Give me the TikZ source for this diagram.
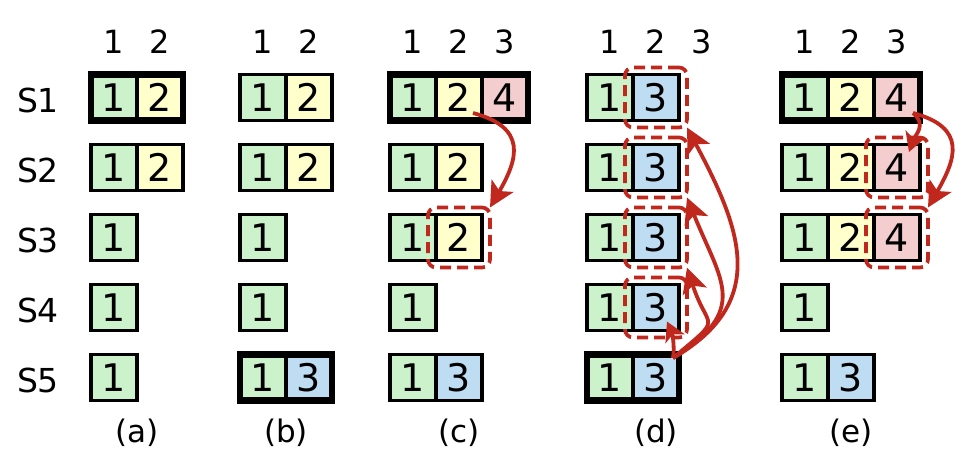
\documentclass[tikz,border=0pt]{standalone}
\usepackage{fontspec}
\setmainfont{DejaVu Sans}
\usetikzlibrary{arrows.meta}
\definecolor{cg}{RGB}{204,242,204}
\definecolor{cy}{RGB}{255,255,204}
\definecolor{cp}{RGB}{244,206,206}
\definecolor{cb}{RGB}{190,221,242}
\definecolor{myred}{RGB}{192,40,30}
\begin{document}
\begin{tikzpicture}[x=1pt,y=-1pt,
  cell/.style={draw=black, line width=3.1pt, minimum width=46pt, minimum height=46pt,
    inner sep=0pt, outer sep=0pt, font=\fontsize{38}{38}\selectfont},
  gc/.style={cell,fill=cg}, yc/.style={cell,fill=cy}, pc/.style={cell,fill=cp}, bc/.style={cell,fill=cb},
  leader/.style={draw=black, line width=6.5pt},
  dbox/.style={draw=myred, line width=3.7pt, dash pattern=on 11pt off 6pt, rounded corners=8pt,
    minimum width=62pt, minimum height=60pt, inner sep=0pt, outer sep=0pt},
  arr/.style={draw=myred, line width=3.8pt, -{Stealth[length=25pt,width=25pt,inset=6pt]}},
  sarr/.style={draw=myred, line width=3.8pt, -{Stealth[length=19pt,width=21pt,inset=5pt]}},
  hdr/.style={font=\fontsize{32}{32}\selectfont, anchor=base},
  srv/.style={font=\fontsize{33}{33}\selectfont, anchor=base},
  ptag/.style={font=\fontsize{31}{31}\selectfont, anchor=base}
]
\useasboundingbox (0,0) rectangle (964,458);

% headers
\node[hdr] (ha1) at (114,53) {1}; \node[hdr] (ha2) at (160,53) {2};
\node[hdr] (hb1) at (263,53) {1}; \node[hdr] (hb2) at (309,53) {2};
\node[hdr] (hc1) at (413,53) {1}; \node[hdr] (hc2) at (459,53) {2}; \node[hdr] (hc3) at (505,53) {3};
\node[hdr] (hd1) at (610,53) {1}; \node[hdr] (hd2) at (656,53) {2}; \node[hdr] (hd3) at (702,53) {3};
\node[hdr] (he1) at (805,53) {1}; \node[hdr] (he2) at (851,53) {2}; \node[hdr] (he3) at (897,53) {3};

% server labels
\node[srv] (s1) at (38,112) {S1};
\node[srv] (s2) at (38,182) {S2};
\node[srv] (s3) at (38,252) {S3};
\node[srv] (s4) at (38,322) {S4};
\node[srv] (s5) at (38,392) {S5};

% panel tags
\node[ptag] (ta) at (137,442) {(a)};
\node[ptag] (tb) at (286,442) {(b)};
\node[ptag] (tc) at (459,442) {(c)};
\node[ptag] (td) at (656,442) {(d)};
\node[ptag] (te) at (851,442) {(e)};

% panel (a)
\node[gc] (a11) at (114,97.5) {1}; \node[yc] (a12) at (160,97.5) {2};
\node[gc] (a21) at (114,167.5) {1}; \node[yc] (a22) at (160,167.5) {2};
\node[gc] (a31) at (114,237.5) {1};
\node[gc] (a41) at (114,307.5) {1};
\node[gc] (a51) at (114,377.5) {1};
\draw[leader] (a11.north west) rectangle (a12.south east);

% panel (b)
\node[gc] (b11) at (263,97.5) {1}; \node[yc] (b12) at (309,97.5) {2};
\node[gc] (b21) at (263,167.5) {1}; \node[yc] (b22) at (309,167.5) {2};
\node[gc] (b31) at (263,237.5) {1};
\node[gc] (b41) at (263,307.5) {1};
\node[gc] (b51) at (263,377.5) {1}; \node[bc] (b52) at (309,377.5) {3};
\draw[leader] (b51.north west) rectangle (b52.south east);

% panel (c)
\node[gc] (c11) at (413,97.5) {1}; \node[yc] (c12) at (459,97.5) {2}; \node[pc] (c13) at (505,97.5) {4};
\node[gc] (c21) at (413,167.5) {1}; \node[yc] (c22) at (459,167.5) {2};
\node[gc] (c31) at (413,237.5) {1}; \node[yc] (c32) at (459,237.5) {2};
\node[gc] (c41) at (413,307.5) {1};
\node[gc] (c51) at (413,377.5) {1}; \node[bc] (c52) at (459,377.5) {3};
\draw[leader] (c11.north west) rectangle (c13.south east);
\node[dbox] (cd3) at (c32.center) {};

% panel (d)
\node[gc] (d11) at (610,97.5) {1}; \node[bc] (d12) at (656,97.5) {3};
\node[gc] (d21) at (610,167.5) {1}; \node[bc] (d22) at (656,167.5) {3};
\node[gc] (d31) at (610,237.5) {1}; \node[bc] (d32) at (656,237.5) {3};
\node[gc] (d41) at (610,307.5) {1}; \node[bc] (d42) at (656,307.5) {3};
\node[gc] (d51) at (610,377.5) {1}; \node[bc] (d52) at (656,377.5) {3};
\draw[leader] (d51.north west) rectangle (d52.south east);
\node[dbox] (dd1) at (d12.center) {};
\node[dbox] (dd2) at (d22.center) {};
\node[dbox] (dd3) at (d32.center) {};
\node[dbox] (dd4) at (d42.center) {};

% panel (e)
\node[gc] (e11) at (805,97.5) {1}; \node[yc] (e12) at (851,97.5) {2}; \node[pc] (e13) at (897,97.5) {4};
\node[gc] (e21) at (805,167.5) {1}; \node[yc] (e22) at (851,167.5) {2}; \node[pc] (e23) at (897,167.5) {4};
\node[gc] (e31) at (805,237.5) {1}; \node[yc] (e32) at (851,237.5) {2}; \node[pc] (e33) at (897,237.5) {4};
\node[gc] (e41) at (805,307.5) {1};
\node[gc] (e51) at (805,377.5) {1}; \node[bc] (e52) at (851,377.5) {3};
\draw[leader] (e11.north west) rectangle (e13.south east);
\node[dbox] (ed2) at (e23.center) {};
\node[dbox] (ed3) at (e33.center) {};

% arrows
\coordinate (cs) at ([xshift=-9pt,yshift=7.5pt]c12.south east);
\draw[arr] (cs) to[out=-15,in=60,looseness=1.5] (cd3.north east);

\coordinate (ds) at ([xshift=-6pt,yshift=-3.5pt]d52.north east);
\coordinate (d4t) at ([xshift=-12pt,yshift=9pt]d42.south east);
\draw[arr] (ds) to[out=30,in=-62,looseness=1.25] (dd1.south east);
\draw[arr] (ds) to[out=32,in=-68,looseness=1.45] (dd2.south east);
\draw[arr] (ds) to[out=40,in=-72,looseness=1.9] (dd3.south east);
\draw[sarr] (ds) to[out=80,in=-65,looseness=0.8] (d4t);

\coordinate (es) at ([xshift=-7pt,yshift=7.5pt]e13.south east);
\coordinate (e2t) at ([xshift=-11pt,yshift=-7.5pt]e23.north east);
\draw[sarr] (es) to[out=-40,in=70,looseness=1.2] (e2t);
\draw[arr] (es) to[out=-15,in=60,looseness=1.5] (ed3.north east);
\end{tikzpicture}
\end{document}
